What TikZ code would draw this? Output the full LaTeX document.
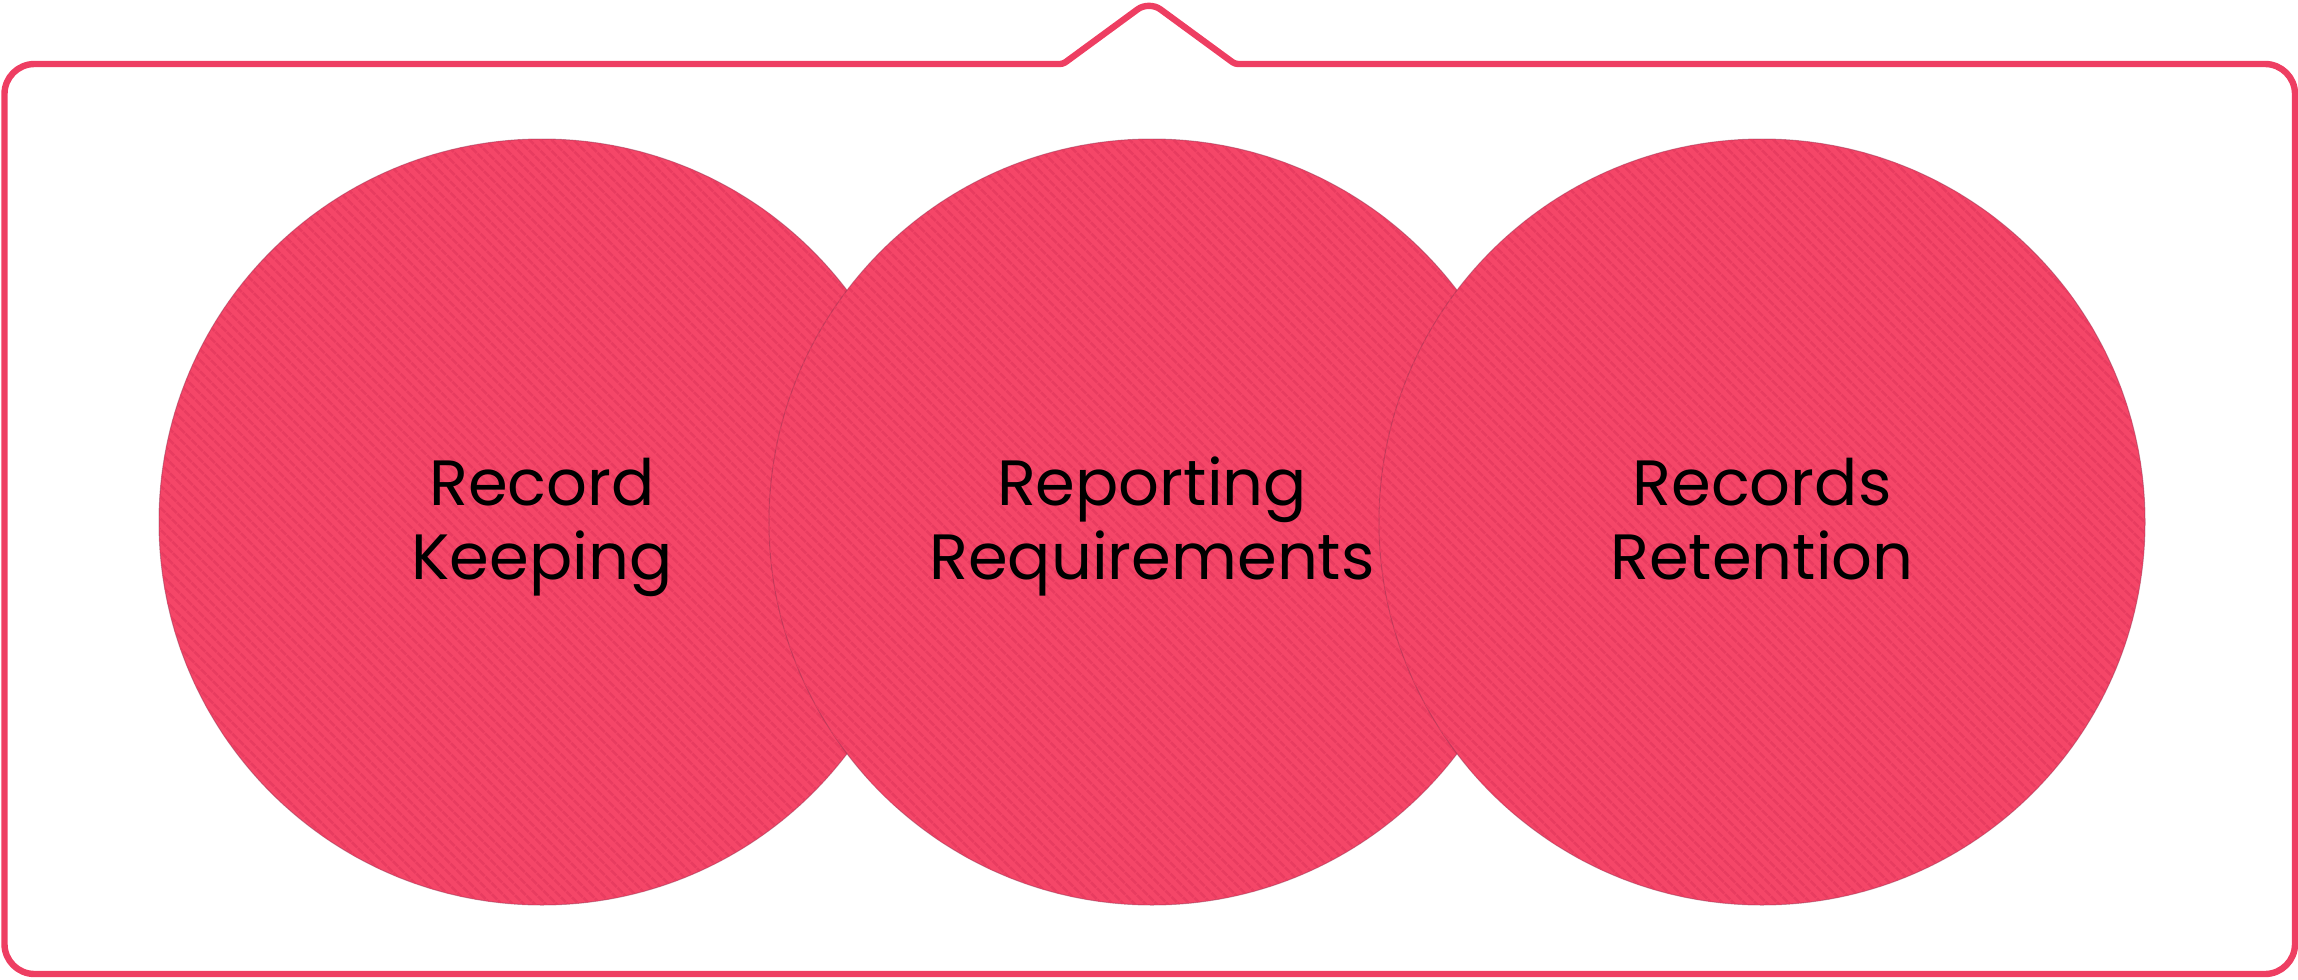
\documentclass[tikz,border=0pt]{standalone}
\usepackage{fontspec}
\setmainfont{Poppins}
\usetikzlibrary{patterns.meta}
\definecolor{frameR}{RGB}{238,62,98}
\definecolor{fillR}{RGB}{245,70,104}
\definecolor{stripeR}{RGB}{232,60,96}
\definecolor{edgeR}{RGB}{150,50,80}
\begin{document}
\begin{tikzpicture}[x=0.5pt,y=-0.5pt,
  bubble/.style={circle, minimum size=383pt, inner sep=0pt, fill=fillR,
    postaction={pattern={Lines[angle=-45,distance=4pt,line width=1.4pt]}, pattern color=stripeR},
    draw=edgeR, draw opacity=0.5, line width=0.5pt},
  label/.style={font=\fontsize{32}{37}\selectfont, align=center, text=black},
  framepath/.style={draw=frameR, line width=3.2pt, line join=round}]
\useasboundingbox (0,0) rectangle (2298,980);
\coordinate (nl) at (1063,64);
\coordinate (np) at (1149,1);
\coordinate (nr) at (1235,64);
\draw[framepath] (nl) [rounded corners=7pt] -- (np) [rounded corners=1.5pt] -- (nr)
  [rounded corners=15pt] -- (2295,64) -- (2295,974) -- (4.5,974) -- (4.5,64) [rounded corners=1.5pt] -- cycle;
\node[bubble] (c1) at (542,522) {};
\node[bubble] (c2) at (1152,522) {};
\node[bubble] (c3) at (1762,522) {};
\node[label] (t1) at ([yshift=-3pt]c1.center) {\strut Record\\\strut Keeping};
\node[label] (t2) at ([yshift=-3pt]c2.center) {\strut Reporting\\\strut Requirements};
\node[label] (t3) at ([yshift=-3pt]c3.center) {\strut Records\\\strut Retention};
\end{tikzpicture}
\end{document}
